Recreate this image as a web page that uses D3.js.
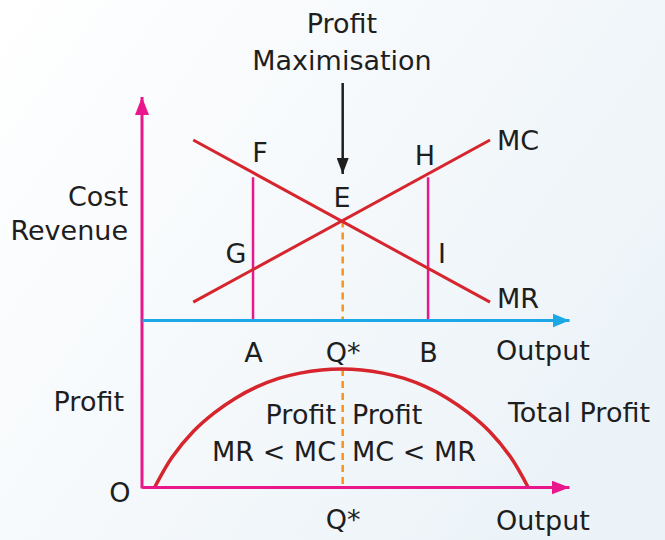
<!DOCTYPE html>
<html lang="en">
<head>
<meta charset="utf-8">
<style>
    body { margin: 0; }
    text { font-family: "DejaVu Sans", sans-serif; font-size: 27px; fill: #1e1e1e; }
</style>
</head>
<body>
    <script src='https://d3js.org/d3.v7.min.js'></script>
    <script>

        // output axis (0..100) and the marked quantities
        const tickLabels = ["A", "Q*", "B"];
        const tickValues = [26, 47, 67];
        const qStar = 47;

        // MC and MR lines, cost/revenue values at their two ends
        const lineX = [12, 81.5];
        const mcValues = [8, 80.7];
        const mrValues = [80.7, 8];

        // pink verticals at A and B (top value)
        const segX = [26, 67];
        const segTop = [64, 64];

        // total profit curve
        const profitX = [3, 7, 12, 17, 22, 27, 32, 37, 42, 46.8, 51.4, 56.4, 61.4, 66.4, 71.4, 76.4, 81.4, 86.4, 90.4];
        const profitY = [0, 25, 47, 63, 75.5, 85, 92, 96.5, 99.2, 100, 99.2, 96.5, 92, 85, 75.5, 63, 47, 25, 0];

        const width = 665;
        const height = 540;

        const pink = "#e9168c", red = "#d6252d", blue = "#1ca8e6", orange = "#f7941d";

        var svg = d3.select("body")
            .append("svg")
            .attr("width", width)
            .attr("height", height);

        var defs = svg.append("defs");
        var grad = defs.append("linearGradient")
            .attr("id", "bg")
            .attr("x1", "0").attr("y1", "0")
            .attr("x2", "1").attr("y2", "0.6");
        grad.append("stop").attr("offset", "0").attr("stop-color", "#ffffff");
        grad.append("stop").attr("offset", "1").attr("stop-color", "#ecf3f8");

        function marker(id, color, len, w) {
            defs.append("marker")
                .attr("id", id)
                .attr("markerUnits", "userSpaceOnUse")
                .attr("viewBox", "0 0 " + len + " " + w)
                .attr("markerWidth", len)
                .attr("markerHeight", w)
                .attr("refX", len)
                .attr("refY", w / 2)
                .attr("orient", "auto")
                .append("path")
                .attr("d", "M0,0L" + len + "," + (w / 2) + "L0," + w + "Z")
                .attr("fill", color);
        }
        marker("pinkArrow", pink, 18, 14);
        marker("blueArrow", blue, 17, 14);
        marker("blackArrow", "#1e1e1e", 16, 12);

        svg.append("rect")
            .attr("width", width)
            .attr("height", height)
            .attr("fill", "url(#bg)");

        var x = d3.scaleLinear()
            .domain([0, 100])
            .range([142, 569]);

        var yTop = d3.scaleLinear()
            .domain([0, 100])
            .range([320, 97]);

        var yBottom = d3.scaleLinear()
            .domain([0, 100])
            .range([487, 369]);

        // vertical axis (shared)
        svg.append("line")
            .attr("x1", x(0)).attr("x2", x(0))
            .attr("y1", yBottom(0) + 1.5).attr("y2", yTop(100))
            .attr("stroke", pink)
            .attr("stroke-width", 3)
            .attr("marker-end", "url(#pinkArrow)");

        // pink verticals at A and B
        svg.selectAll(".seg")
            .data(segX)
            .enter()
            .append("line")
            .attr("x1", function (d) { return x(d); })
            .attr("x2", function (d) { return x(d); })
            .attr("y1", yTop(0))
            .attr("y2", function (d, i) { return yTop(segTop[i]); })
            .attr("stroke", pink)
            .attr("stroke-width", 2.5);

        // orange dashed at Q* (top)
        var mcScale = d3.scaleLinear().domain(lineX).range(mcValues);
        svg.append("line")
            .attr("x1", x(qStar)).attr("x2", x(qStar))
            .attr("y1", yTop(mcScale(qStar))).attr("y2", yTop(0))
            .attr("stroke", orange)
            .attr("stroke-width", 2.5)
            .attr("stroke-dasharray", "7,5");

        // top output axis
        var xAxis = d3.axisBottom(x)
            .tickValues(tickValues)
            .tickFormat(function (d, i) { return tickLabels[i]; })
            .tickSize(0)
            .tickPadding(22);

        var gx = svg.append("g")
            .attr("transform", "translate(0," + yTop(0) + ")")
            .call(xAxis);
        gx.select(".domain")
            .attr("stroke", blue)
            .attr("stroke-width", 3)
            .attr("marker-end", "url(#blueArrow)");
        gx.selectAll(".tick text")
            .attr("fill", "#1e1e1e")
            .style("font-family", "DejaVu Sans")
            .style("font-size", "27px")
            .attr("dy", "0.75em");

        // MC and MR lines
        var line = d3.line()
            .x(function (d) { return x(d[0]); })
            .y(function (d) { return yTop(d[1]); });

        svg.append("path")
            .attr("d", line(d3.zip(lineX, mcValues)))
            .attr("fill", "none")
            .attr("stroke", red)
            .attr("stroke-width", 3);
        svg.append("path")
            .attr("d", line(d3.zip(lineX, mrValues)))
            .attr("fill", "none")
            .attr("stroke", red)
            .attr("stroke-width", 3);

        // bottom panel: orange dashed at Q*
        svg.append("line")
            .attr("x1", x(qStar)).attr("x2", x(qStar))
            .attr("y1", yBottom(100)).attr("y2", yBottom(0))
            .attr("stroke", orange)
            .attr("stroke-width", 2.5)
            .attr("stroke-dasharray", "7,5");

        // total profit curve
        var profitLine = d3.line()
            .x(function (d) { return x(d[0]); })
            .y(function (d) { return yBottom(d[1]); })
            .curve(d3.curveCatmullRom.alpha(0.5));

        svg.append("path")
            .attr("d", profitLine(d3.zip(profitX, profitY)))
            .attr("fill", "none")
            .attr("stroke", red)
            .attr("stroke-width", 3.5);

        // bottom output axis
        var xAxis2 = d3.axisBottom(x)
            .tickValues([qStar])
            .tickFormat(function () { return "Q*"; })
            .tickSize(0)
            .tickPadding(22);

        var gx2 = svg.append("g")
            .attr("transform", "translate(0," + yBottom(0) + ")")
            .call(xAxis2);
        gx2.select(".domain")
            .attr("stroke", pink)
            .attr("stroke-width", 3)
            .attr("marker-end", "url(#pinkArrow)");
        gx2.selectAll(".tick text")
            .attr("fill", "#1e1e1e")
            .style("font-family", "DejaVu Sans")
            .style("font-size", "27px")
            .attr("dy", "0.75em");

        // arrow pointing at E
        svg.append("line")
            .attr("x1", x(qStar)).attr("x2", x(qStar))
            .attr("y1", 83).attr("y2", 174)
            .attr("stroke", "#1e1e1e")
            .attr("stroke-width", 2.5)
            .attr("marker-end", "url(#blackArrow)");

        // annotations
        const labels = [
            ["Profit", 342, 33, "middle"],
            ["Maximisation", 342, 70, "middle"],
            ["F", 260, 162, "middle"],
            ["H", 425, 165, "middle"],
            ["MC", 497, 150, "start"],
            ["E", 342, 207, "middle"],
            ["G", 236, 263, "middle"],
            ["I", 442, 263, "middle"],
            ["MR", 497, 308, "start"],
            ["Output", 543, 360, "middle"],
            ["Cost", 128, 206, "end"],
            ["Revenue", 128, 240, "end"],
            ["Profit", 124, 411, "end"],
            ["Profit", 336, 424, "end"],
            ["Profit", 352, 424, "start"],
            ["MR < MC", 336, 461, "end"],
            ["MC < MR", 352, 461, "start"],
            ["Total Profit", 650, 422, "end"],
            ["O", 120, 502, "middle"],
            ["Output", 543, 530, "middle"]
        ];

        svg.selectAll(".label")
            .data(labels)
            .enter()
            .append("text")
            .attr("class", "label")
            .attr("x", function (d) { return d[1]; })
            .attr("y", function (d) { return d[2]; })
            .attr("text-anchor", function (d) { return d[3]; })
            .text(function (d) { return d[0]; });

    </script>
</body>
</html>
